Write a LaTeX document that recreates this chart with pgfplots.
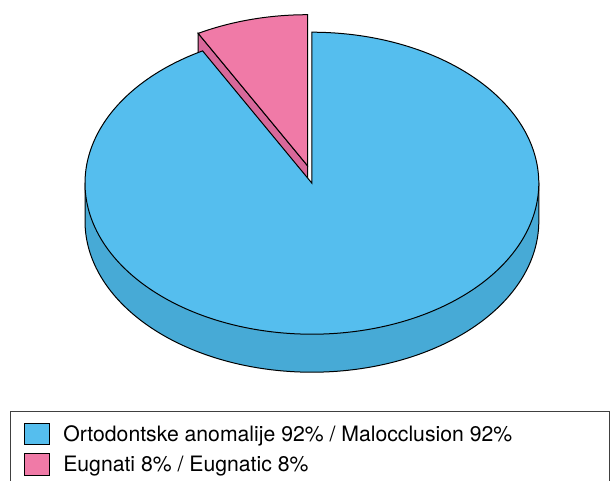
\documentclass[border=0pt]{standalone}
\usepackage{pgfplots}
\pgfplotsset{compat=1.18}
\usepackage{pgfplotstable}
\usepackage{fontspec}
\setmainfont{TeX Gyre Heros}
\definecolor{bluetop}{HTML}{55BEEE}
\definecolor{blueside}{HTML}{47AAD6}
\definecolor{pinktop}{HTML}{F07AA7}
\definecolor{pinkside}{HTML}{D8689A}

\pgfplotstableread{
label value
Malocclusion 92
Eugnatic 8
}\piedata

\begin{document}
\begin{tikzpicture}
\pgfplotstablegetelem{0}{value}\of\piedata \edef\va{\pgfplotsretval}
\pgfplotstablegetelem{1}{value}\of\piedata \edef\vb{\pgfplotsretval}
\pgfmathsetmacro\cx{311.9}
\pgfmathsetmacro\cy{183.2}
\pgfmathsetmacro\rx{226.9}
\pgfmathsetmacro\ry{151}
\pgfmathsetmacro\dep{38}
\pgfmathsetmacro\aS{90}
\pgfmathsetmacro\aM{90+360*\vb/(\va+\vb)}
\pgfmathsetmacro\aE{450}
\pgfmathsetmacro\px{\cx-4.4}
\pgfmathsetmacro\py{\cy-17.5}
\pgfmathsetmacro\qx{\px+\rx*cos(\aM)}
\pgfmathsetmacro\qy{\py-\ry*sin(\aM)}
\pgfmathsetmacro\pyd{\py+\dep}
\pgfmathsetmacro\qyd{\qy+\dep}
\pgfmathsetmacro\lx{\cx-\rx}
\pgfmathsetmacro\rrx{\cx+\rx}
\begin{axis}[
  scale only axis, width=615pt, height=480pt,
  xmin=0, xmax=615, ymin=0, ymax=480, y dir=reverse,
  hide axis, clip=false,
  legend style={at={(axis cs:24.3,422.7)}, anchor=north west, draw=none, fill=none,
    inner sep=0pt, outer sep=0pt, row sep=7.8pt, column sep=13.5pt,
    font=\fontsize{21.2}{25}\selectfont, nodes={inner sep=0pt}},
  legend cell align=left,
]
\addlegendimage{legend image code/.code={\draw[fill=bluetop,draw=black,line width=0.8pt] (0pt,-10.8pt) rectangle (24.7pt,10.8pt);}}
\addlegendentry{Ortodontske anomalije 92\% / Malocclusion 92\%}
\addlegendimage{legend image code/.code={\draw[fill=pinktop,draw=black,line width=0.8pt] (0pt,-10.8pt) rectangle (24.7pt,10.8pt);}}
\addlegendentry{Eugnati 8\% / Eugnatic 8\%}

% pink slice: radial side face
\addplot[forget plot, fill=pinkside, draw=black, line width=1pt] coordinates {(\px,\py) (\qx,\qy) (\qx,\qyd) (\px,\pyd)} -- cycle;
% pink slice: top face
\addplot[forget plot, fill=pinktop, draw=black, line width=1pt, domain=\aS:\aM, samples=40, variable=\t]
  ({\px+\rx*cos(\t)},{\py-\ry*sin(\t)}) -- (axis cs:\px,\py) -- cycle;
% blue side wall
\addplot[forget plot, fill=blueside, draw=black, line width=1pt, domain=180:360, samples=150, variable=\t]
  ({\cx+\rx*cos(\t)},{\cy+\dep-\ry*sin(\t)}) -- (axis cs:\rrx,\cy) -- (axis cs:\lx,\cy) -- cycle;
% blue top face
\addplot[forget plot, fill=bluetop, draw=black, line width=1pt, domain=\aM:\aE, samples=300, variable=\t]
  ({\cx+\rx*cos(\t)},{\cy-\ry*sin(\t)}) -- (axis cs:\cx,\cy) -- cycle;

% legend frame
\draw[draw=black!75, line width=0.9pt] (axis cs:10,411.3) rectangle (axis cs:609.7,520);
\coordinate (BL) at (axis cs:0,480);
\coordinate (TR) at (axis cs:615,0);
\end{axis}
\pgfresetboundingbox
\path (BL) rectangle (TR);
\end{tikzpicture}
\end{document}
